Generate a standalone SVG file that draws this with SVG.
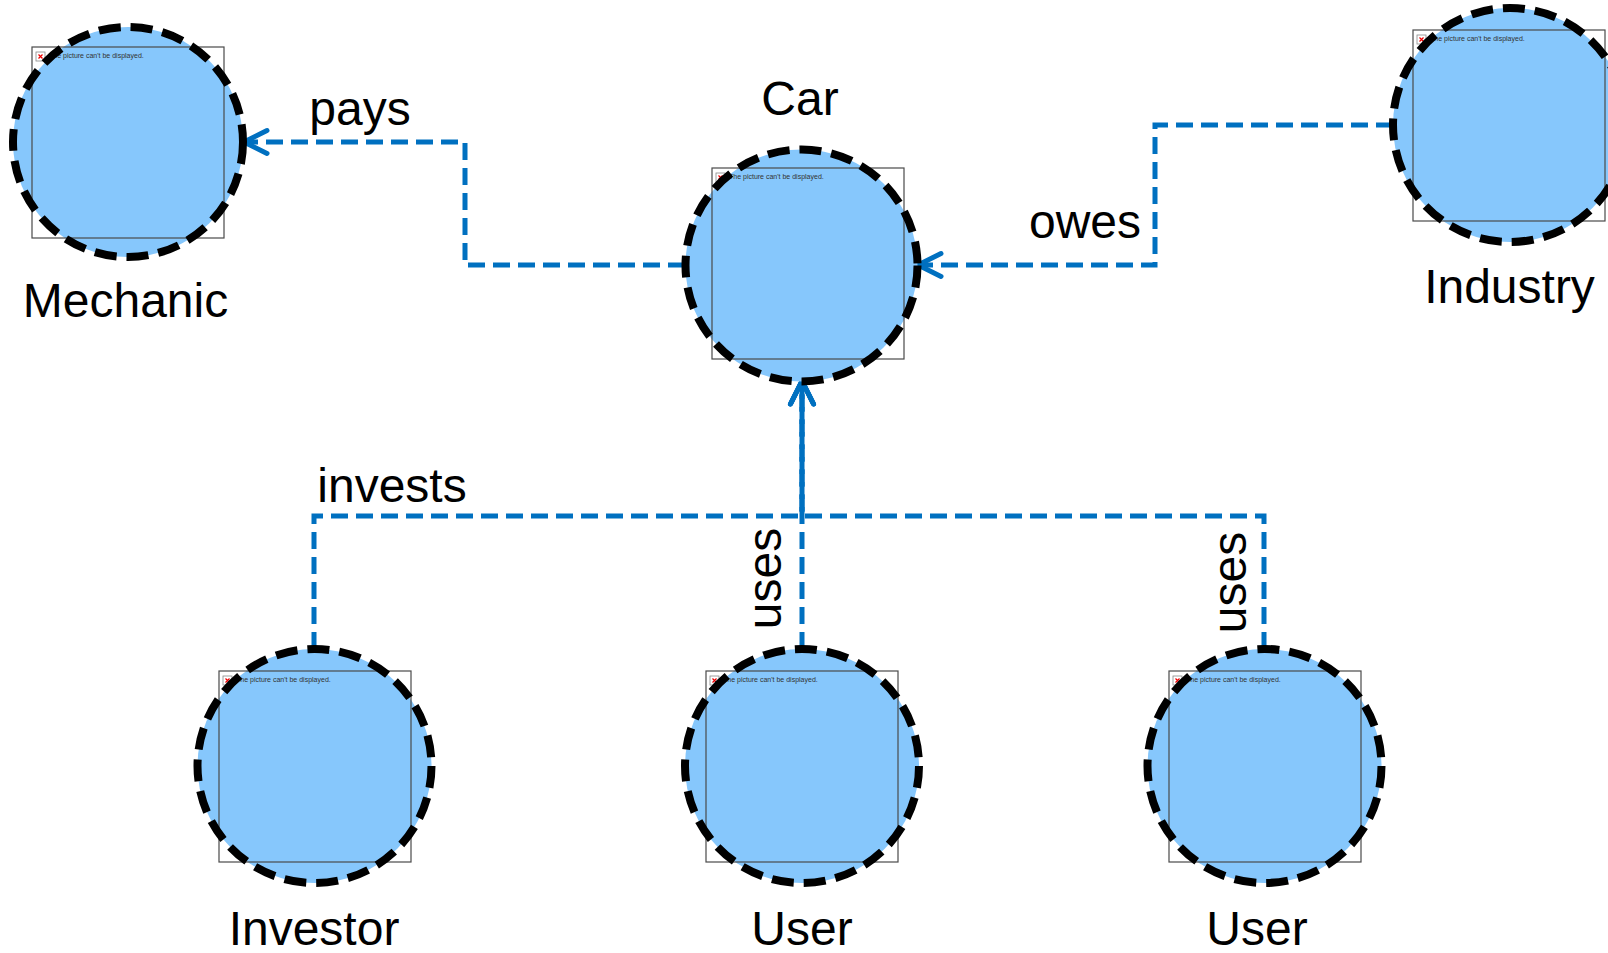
<svg xmlns="http://www.w3.org/2000/svg" xmlns:xlink="http://www.w3.org/1999/xlink" width="1608" height="953" viewBox="0 0 1608 953">
  <style>
    .disc { fill: #86C7FC; stroke: none; }
    .ring { fill: none; stroke: #000; stroke-width: 8; stroke-dasharray: 22 10; }
    .frame { fill: none; stroke: #4a4a4a; stroke-width: 1.2; }
    .ph-text { font-family: "Liberation Sans", Arial, sans-serif; font-size: 7px; fill: #333; }
    .label { font-family: "Liberation Sans", Arial, sans-serif; font-size: 48px; fill: #000; text-anchor: middle; }
    .link { fill: none; stroke: #0070C0; stroke-width: 5; stroke-dasharray: 17 8; }
  </style>
  <defs>
    <marker id="open-arrow" markerUnits="userSpaceOnUse" viewBox="-30 -16 34 32" markerWidth="34" markerHeight="32" refX="0" refY="0" orient="auto">
      <path d="M -23 -11.5 L 0 0 L -23 11.5" fill="none" stroke="#0070C0" stroke-width="5" stroke-linecap="round" stroke-linejoin="round"/>
    </marker>
    <!-- broken-picture placeholder, 192 x 191 -->
    <g id="placeholder">
      <rect class="frame" x="0" y="0" width="192" height="191"/>
      <rect x="4" y="5" width="9" height="9" fill="#fff" stroke="#888" stroke-width="0.8"/>
      <path d="M 6.5 7.5 L 10.5 11.5 M 10.5 7.5 L 6.5 11.5" stroke="#e00" stroke-width="1.2"/>
      <text class="ph-text" x="17" y="11">The picture can't be displayed.</text>
    </g>
  </defs>

  <rect width="1608" height="953" fill="#fff"/>

  <!-- connectors -->
  <g id="connectors">
    <path class="link" d="M 685 265 H 465 V 142 H 244" marker-end="url(#open-arrow)"/>
    <path class="link" d="M 1393 125 H 1155 V 265 H 918" marker-end="url(#open-arrow)"/>
    <path class="link" d="M 314 649 V 516 H 802 V 381" marker-end="url(#open-arrow)"/>
    <path class="link" d="M 802 649 V 381" marker-end="url(#open-arrow)"/>
    <path class="link" d="M 1264 649 V 516 H 802 V 381" marker-end="url(#open-arrow)"/>
    <text class="label" x="360" y="125">pays</text>
    <text class="label" x="1085" y="238">owes</text>
    <text class="label" x="392" y="502">invests</text>
    <text class="label" transform="translate(781 578.5) rotate(-90)">uses</text>
    <text class="label" transform="translate(1246 582.5) rotate(-90)">uses</text>
  </g>

  <!-- nodes -->
  <g id="mechanic">
    <circle class="disc" cx="128" cy="142" r="115"/>
    <use xlink:href="#placeholder" x="32" y="47"/>
    <circle class="ring" cx="128" cy="142" r="115"/>
    <text class="label" x="125.5" y="317">Mechanic</text>
  </g>

  <g id="car">
    <circle class="disc" cx="801.5" cy="265.5" r="116"/>
    <use xlink:href="#placeholder" x="712" y="168"/>
    <circle class="ring" cx="801.5" cy="265.5" r="116"/>
    <text class="label" x="800" y="115">Car</text>
  </g>

  <g id="industry">
    <circle class="disc" cx="1510" cy="125" r="117"/>
    <use xlink:href="#placeholder" x="1413" y="30"/>
    <circle class="ring" cx="1510" cy="125" r="117"/>
    <text class="label" x="1509.5" y="303">Industry</text>
  </g>

  <g id="investor">
    <circle class="disc" cx="314.5" cy="766" r="117"/>
    <use xlink:href="#placeholder" x="219" y="671"/>
    <circle class="ring" cx="314.5" cy="766" r="117"/>
    <text class="label" x="314" y="945">Investor</text>
  </g>

  <g id="user-1">
    <circle class="disc" cx="802" cy="766" r="117"/>
    <use xlink:href="#placeholder" x="706" y="671"/>
    <circle class="ring" cx="802" cy="766" r="117"/>
    <text class="label" x="802" y="945">User</text>
  </g>

  <g id="user-2">
    <circle class="disc" cx="1264.5" cy="766" r="117"/>
    <use xlink:href="#placeholder" x="1169" y="671"/>
    <circle class="ring" cx="1264.5" cy="766" r="117"/>
    <text class="label" x="1257" y="945">User</text>
  </g>
</svg>
